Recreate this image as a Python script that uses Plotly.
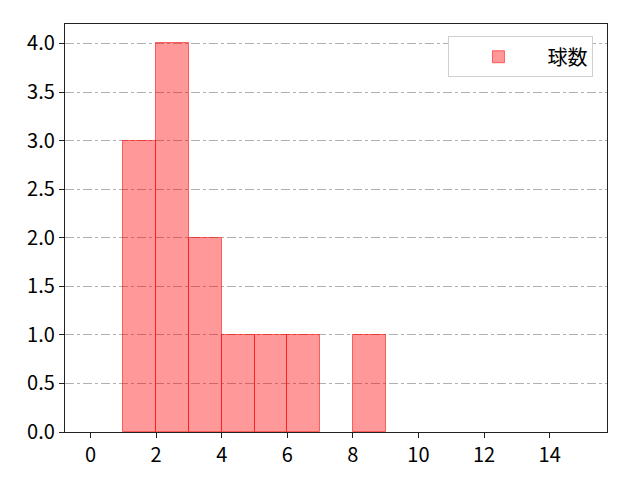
import plotly.graph_objects as go

# histogram bins (left edge) and counts; empty bin left as None
bin_left = [1, 2, 3, 4, 5, 6, 7, 8]
counts = [3, 4, 2, 1, 1, 1, None, 1]
x_ticks = [0, 2, 4, 6, 8, 10, 12, 14]
y_ticks = [0.0, 0.5, 1.0, 1.5, 2.0, 2.5, 3.0, 3.5, 4.0]

fig = go.Figure()
fig.add_trace(go.Bar(
    x=[b + 0.5 for b in bin_left],
    y=counts,
    width=1,
    name="球数",
    marker=dict(color="rgba(255,0,0,0.4)", line=dict(color="rgba(255,0,0,0.55)", width=1)),
    showlegend=True,
))

fig.update_layout(
    width=640, height=480,
    margin=dict(l=57, r=41, t=16, b=56),
    plot_bgcolor="white", paper_bgcolor="white",
    font=dict(family="Noto Sans CJK JP", size=20, color="black"),
    bargap=0,
    showlegend=True,
    legend=dict(x=0.975, y=0.97, xanchor="right", yanchor="top",
                bordercolor="#d0d0d0", borderwidth=1, bgcolor="white",
                itemwidth=88, font=dict(size=20)),
)
fig.update_xaxes(
    range=[-0.78, 15.75], tickvals=x_ticks, ticks="outside", ticklen=5,
    tickcolor="#222", tickwidth=1.3, tickfont=dict(size=20),
    showline=True, linecolor="#222", linewidth=1.3, mirror=True,
    showgrid=False, zeroline=False,
)
fig.update_yaxes(
    range=[0, 4.2], tickvals=y_ticks, ticktext=[f"{v:.1f}" for v in y_ticks],
    ticks="outside", ticklen=5, tickcolor="#222", tickwidth=1.3, tickfont=dict(size=20),
    showline=True, linecolor="#222", linewidth=1.3, mirror=True, zeroline=False,
    showgrid=True, gridcolor="#b0b0b0", griddash="dashdot", gridwidth=1,
)

fig.write_html("out.html")
